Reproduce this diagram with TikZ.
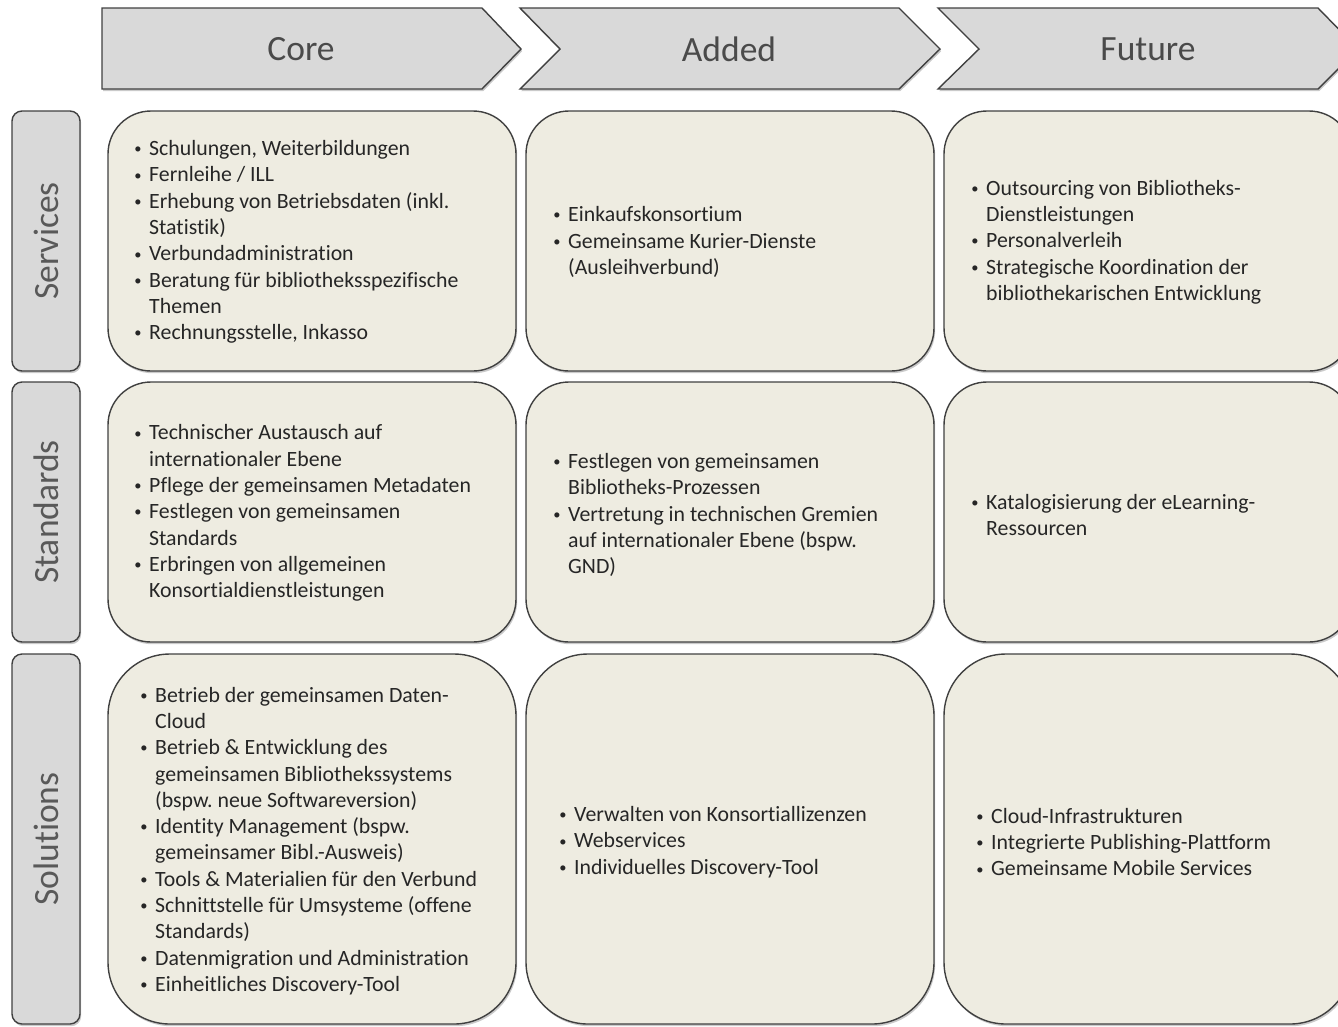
\documentclass[tikz,border=0pt]{standalone}
\usepackage{fontspec}
\setmainfont{Carlito}[Ligatures={NoCommon,NoRequired,NoContextual}]
\usetikzlibrary{shadows}
\frenchspacing
\definecolor{cellfill}{HTML}{EEECE1}
\definecolor{labfill}{HTML}{D9D9D9}
\definecolor{edge}{HTML}{404040}
\definecolor{bodytxt}{HTML}{262626}
\definecolor{headtxt}{HTML}{4A4A4A}
\definecolor{labtxt}{HTML}{595959}
\newcommand\bul{\llap{\raisebox{1.8pt}{\fontsize{14.5}{14.5}\selectfont •}\hspace{7.5pt}}}
\tikzset{
  shad/.style={drop shadow={shadow xshift=1.2pt,shadow yshift=-2.2pt,opacity=.35,fill=black!60}},
  cell/.style={draw=edge,line width=1.4pt,fill=cellfill,shad},
  lab/.style={draw=edge,line width=1.4pt,fill=labfill,rounded corners=10pt,shad},
  chev/.style={draw=edge,line width=1.4pt,fill=labfill,shad},
  headtext/.style={text=headtxt,font=\fontsize{35.5}{40}\selectfont,inner sep=0pt},
  labtext/.style={text=labtxt,font=\fontsize{35.5}{40}\selectfont,inner sep=0pt,rotate=90},
  body/.style={text=bodytxt,font=\fontsize{21.8}{26.3}\selectfont\frenchspacing,align=left,inner sep=0pt,anchor=west},
}
\begin{document}
\begin{tikzpicture}[x=1pt,y=-1pt]
\useasboundingbox (0,0) rectangle (1338,1026);
\clip (0,0) rectangle (1338,1026);
% header chevrons
\draw[chev] (102,8) -- (482,8) -- (521,49) -- (482,89) -- (102,89) -- cycle;
\draw[chev] (520,8) -- (899,8) -- (940,49) -- (899,89) -- (520,89) -- (560,49) -- cycle;
\draw[chev] (938,8) -- (1318,8) -- (1358,49) -- (1318,89) -- (938,89) -- (979,49) -- cycle;
\node[headtext] (hcore) at (301,49) {Core};
\node[headtext] (hadded) at (729,49) {Added};
\node[headtext] (hfuture) at (1148,49) {Future};
% row labels
\draw[lab] (12,111) rectangle (80,371);
\draw[lab] (12,382) rectangle (80,642);
\draw[lab] (12,654) rectangle (80,1024);
\node[labtext] (lserv) at (46,241) {Services};
\node[labtext] (lstd) at (46,512) {Standards};
\node[labtext] (lsol) at (46,839) {Solutions};
% cells
\foreach \xa/\xb in {108/516,526/934,944/1352}{
  \draw[cell,rounded corners=43pt] (\xa,111) rectangle (\xb,371);
  \draw[cell,rounded corners=43pt] (\xa,382) rectangle (\xb,642);
  \draw[cell,rounded corners=62pt] (\xa,654) rectangle (\xb,1024);
}
% texts
\node[body] (t11) at (149,242) {\bul Schulungen, Weiterbildungen\\
\bul Fernleihe / ILL\\
\bul Erhebung von Betriebsdaten (inkl.\\
Statistik)\\
\bul Verbundadministration\\
\bul Beratung für bibliotheksspezifische\\
Themen\\
\bul Rechnungsstelle, Inkasso};
\node[body] (t12) at (568,242) {\bul Einkaufskonsortium\\
\bul Gemeinsame Kurier-Dienste\\
(Ausleihverbund)};
\node[body] (t13) at (986,242) {\bul Outsourcing von Bibliotheks-\\
Dienstleistungen\\
\bul Personalverleih\\
\bul Strategische Koordination der\\
bibliothekarischen Entwicklung};
\node[body] (t21) at (149,513) {\bul Technischer Austausch auf\\
internationaler Ebene\\
\bul Pflege der gemeinsamen Metadaten\\
\bul Festlegen von gemeinsamen\\
Standards\\
\bul Erbringen von allgemeinen\\
Konsortialdienstleistungen};
\node[body] (t22) at (568,515) {\bul Festlegen von gemeinsamen\\
Bibliotheks-Prozessen\\
\bul Vertretung in technischen Gremien\\
auf internationaler Ebene (bspw.\\
GND)};
\node[body] (t23) at (986,515) {\bul Katalogisierung der eLearning-\\
Ressourcen};
\node[body] (t31) at (155,841) {\bul Betrieb der gemeinsamen Daten-\\
Cloud\\
\bul Betrieb \& Entwicklung des\\
gemeinsamen Bibliothekssystems\\
(bspw. neue Softwareversion)\\
\bul Identity Management (bspw.\\
gemeinsamer Bibl.-Ausweis)\\
\bul Tools \& Materialien für den Verbund\\
\bul Schnittstelle für Umsysteme (offene\\
Standards)\\
\bul Datenmigration und Administration\\
\bul Einheitliches Discovery-Tool};
\node[body] (t32) at (574,842) {\bul Verwalten von Konsortiallizenzen\\
\bul Webservices\\
\bul Individuelles Discovery-Tool};
\node[body] (t33) at (991,842) {\bul Cloud-Infrastrukturen\\
\bul Integrierte Publishing-Plattform\\
\bul Gemeinsame Mobile Services};
\end{tikzpicture}
\end{document}
